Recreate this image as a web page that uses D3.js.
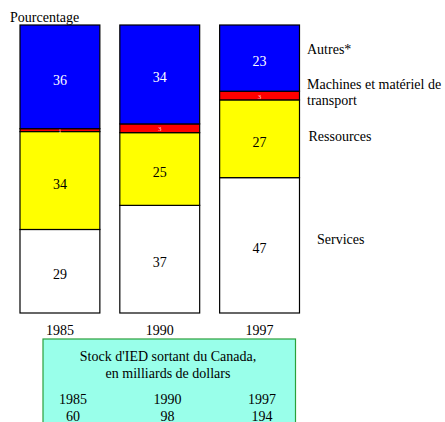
<!DOCTYPE html>
<html>
<head>
<meta charset="utf-8">
<script src="https://cdn.jsdelivr.net/npm/d3@7"></script>
<style>
	body { margin: 0; background: #fff; }
	svg text { font-family: "Liberation Serif", "Times New Roman", serif; }
</style>
</head>
<body>
<div id="chart"></div>
<script>
const years = ["1985", "1990", "1997"];
const services = [29, 37, 47];
const ressources = [34, 25, 27];
const machines = [1, 3, 3];
const autres = [36, 34, 23];
const seriesNames = ["Services", "Ressources", "Machines et matériel de transport", "Autres*"];
const stockYears = ["1985", "1990", "1997"];
const stockValues = [60, 98, 194];

let width = 445,
	height = 422;

let rows = years.map(function(y, i) {
	return { year: y, s: services[i], r: ressources[i], m: machines[i], a: autres[i] };
});

let keys = ["s", "r", "m", "a"];
let colors = { s: "#ffffff", r: "#ffff00", m: "#ff0000", a: "#0000ff" };
let textColors = { s: "#000", r: "#000", m: "#ffd0d0", a: "#fff" };

let stacked = d3.stack()
	.keys(keys)
	.offset(d3.stackOffsetExpand)(rows);

let svg = d3.select("#chart")
	.append("svg")
		.attr("width", width)
		.attr("height", height);

let x = d3.scaleBand()
	.domain(years)
	.range([20, 299.5])
	.paddingInner(0.2);

let y = d3.scaleLinear()
	.domain([0, 1])
	.range([313, 25]);

svg.append("text")
	.attr("x", 10)
	.attr("y", 21.5)
	.style("font-size", "14px")
	.text("Pourcentage");

let layer = svg.selectAll(".layer")
	.data(stacked)
	.enter()
	.append("g")
	.attr("class", "layer");

layer.selectAll("rect")
	.data(function(d) { return d.map(function(p) { return { key: d.key, p: p }; }); })
	.enter()
	.append("rect")
	.attr("x", function(d) { return x(d.p.data.year); })
	.attr("y", function(d) { return y(d.p[1]); })
	.attr("width", x.bandwidth())
	.attr("height", function(d) { return y(d.p[0]) - y(d.p[1]); })
	.attr("fill", function(d) { return colors[d.key]; })
	.attr("stroke", "#000")
	.attr("stroke-width", 1.2);

layer.selectAll("text")
	.data(function(d) { return d.map(function(p) { return { key: d.key, p: p }; }); })
	.enter()
	.append("text")
	.attr("x", function(d) { return x(d.p.data.year) + x.bandwidth() / 2; })
	.attr("y", function(d) {
		let mid = (y(d.p[0]) + y(d.p[1])) / 2;
		return d.key == "m" ? mid + 3 : mid + 8;
	})
	.attr("text-anchor", "middle")
	.style("font-size", function(d) { return d.key == "m" ? "7px" : "14px"; })
	.attr("fill", function(d) { return textColors[d.key]; })
	.text(function(d) { return d.p.data[d.key]; });

// year labels under the bars
svg.selectAll(".year")
	.data(years)
	.enter()
	.append("text")
	.attr("class", "year")
	.attr("x", function(d) { return x(d) + x.bandwidth() / 2; })
	.attr("y", 334.5)
	.attr("text-anchor", "middle")
	.style("font-size", "14px")
	.text(function(d) { return d; });

// legend, next to the last bar
let last = stacked.map(function(s) { return s[s.length - 1]; });
let nudge = [-1.7, 2, -6.5, -4];
let legend = svg.selectAll(".legend")
	.data(seriesNames)
	.enter()
	.append("text")
	.attr("class", "legend")
	.attr("x", function(d, i) { return i == 0 ? 317 : (i == 1 ? 308.5 : 307); })
	.attr("y", function(d, i) { return (y(last[i][0]) + y(last[i][1])) / 2 + nudge[i]; })
	.style("font-size", "14px");

legend.each(function(d) {
	let t = d3.select(this);
	if (d.indexOf("transport") > -1) {
		t.append("tspan").attr("x", 307).text("Machines et matériel de");
		t.append("tspan").attr("x", 307).attr("dy", 16).text("transport");
	} else {
		t.text(d);
	}
});

// stock box
let box = svg.append("g");
box.append("rect")
	.attr("x", 43)
	.attr("y", 339)
	.attr("width", 252.5)
	.attr("height", 100)
	.attr("fill", "#99ffea")
	.attr("stroke", "#2aa03a")
	.attr("stroke-width", 1.2);

box.append("text")
	.attr("x", 168)
	.attr("y", 360.5)
	.attr("text-anchor", "middle")
	.style("font-size", "14px")
	.text("Stock d'IED sortant du Canada,");

box.append("text")
	.attr("x", 168)
	.attr("y", 377.5)
	.attr("text-anchor", "middle")
	.style("font-size", "14px")
	.text("en milliards de dollars");

let colX = d3.scalePoint()
	.domain(stockYears)
	.range([73, 262]);

box.selectAll(".sy")
	.data(stockYears)
	.enter()
	.append("text")
	.attr("x", function(d) { return colX(d); })
	.attr("y", 404)
	.attr("text-anchor", "middle")
	.style("font-size", "14px")
	.text(function(d) { return d; });

box.selectAll(".sv")
	.data(stockValues)
	.enter()
	.append("text")
	.attr("x", function(d, i) { return colX(stockYears[i]); })
	.attr("y", 420.5)
	.attr("text-anchor", "middle")
	.style("font-size", "14px")
	.text(function(d) { return d; });
</script>
</body>
</html>
